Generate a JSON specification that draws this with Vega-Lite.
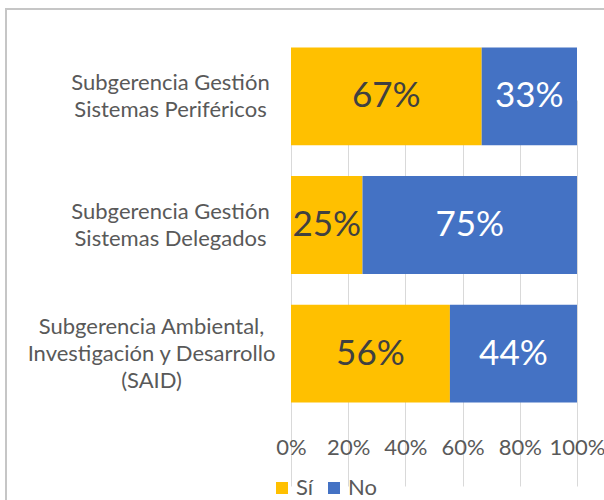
{
  "$schema": "https://vega.github.io/schema/vega-lite/v6.json",
  "autosize": {"type": "none"},
  "padding": {"left": 6, "top": 9, "right": 0, "bottom": 0},
  "width": 600,
  "height": 500,
  "background": "white",
  "config": {
    "view": {"stroke": "#C6C6C6", "strokeWidth": 2},
    "font": "Lato"
  },
  "data": {
    "values": [
      {"cat": "Subgerencia Gestión Sistemas Periféricos", "resp": "Sí", "ord": 1, "v": 0.6667},
      {"cat": "Subgerencia Gestión Sistemas Periféricos", "resp": "No", "ord": 2, "v": 0.3333},
      {"cat": "Subgerencia Gestión Sistemas Delegados", "resp": "Sí", "ord": 1, "v": 0.25},
      {"cat": "Subgerencia Gestión Sistemas Delegados", "resp": "No", "ord": 2, "v": 0.75},
      {"cat": "Subgerencia Ambiental, Investigación y Desarrollo (SAID)", "resp": "Sí", "ord": 1, "v": 0.5556},
      {"cat": "Subgerencia Ambiental, Investigación y Desarrollo (SAID)", "resp": "No", "ord": 2, "v": 0.4444}
    ]
  },
  "encoding": {
    "y": {
      "field": "cat",
      "type": "nominal",
      "sort": null,
      "title": null,
      "scale": {"range": [23, 409], "paddingInner": 0.24, "paddingOuter": 0.12},
      "axis": {
        "offset": -285,
        "domain": false,
        "ticks": false,
        "tickSize": 0,
        "grid": false,
        "labelAlign": "center",
        "labelBaseline": "middle",
        "labelPadding": {"condition": {"test": "indexof(datum.value, 'SAID') >= 0", "value": 140}, "value": 121},
        "labelOffset": {"condition": {"test": "indexof(datum.value, 'SAID') >= 0", "value": -27}, "value": -13.5},
        "labelLimit": 400,
        "labelFontSize": 22,
        "labelLineHeight": 27,
        "labelColor": "#595959",
        "labelFont": "Lato",
        "labelExpr": "datum.label == 'Subgerencia Gestión Sistemas Periféricos' ? ['Subgerencia Gestión', 'Sistemas Periféricos'] : datum.label == 'Subgerencia Gestión Sistemas Delegados' ? ['Subgerencia Gestión', 'Sistemas Delegados'] : ['Subgerencia Ambiental,', 'Investigación y Desarrollo', '(SAID)']"
      }
    }
  },
  "layer": [
    {
      "mark": {"type": "bar"},
      "encoding": {
        "x": {
          "field": "v",
          "type": "quantitative",
          "stack": "zero",
          "title": null,
          "scale": {"domain": [0, 1], "range": [285, 571]},
          "axis": {
            "values": [0, 0.2, 0.4, 0.6, 0.8, 1],
            "format": ".0%",
            "offset": -100,
            "domain": false,
            "ticks": false,
            "tickSize": 0,
            "grid": true,
            "gridColor": "#D9D9D9",
            "gridWidth": 1,
            "labelPadding": 28,
            "labelFontSize": 22,
            "labelColor": "#595959",
            "labelFont": "Lato",
            "labelFlush": false
          }
        },
        "order": {"field": "ord", "type": "quantitative"},
        "color": {
          "field": "resp",
          "type": "nominal",
          "scale": {"domain": ["Sí", "No"], "range": ["#FFC000", "#4472C4"]},
          "legend": {
            "title": null,
            "orient": "none",
            "legendX": 265,
            "legendY": 468,
            "direction": "horizontal",
            "symbolType": "square",
            "symbolSize": 144,
            "symbolStrokeWidth": 0,
            "labelFontSize": 22,
            "labelColor": "#595959",
            "labelFont": "Lato",
            "labelOffset": 3,
            "columnPadding": 9,
            "padding": 0
          }
        }
      }
    },
    {
      "mark": {"type": "text", "fontSize": 35, "baseline": "middle", "align": "center", "font": "Lato"},
      "encoding": {
        "x": {"field": "v", "type": "quantitative", "stack": "zero", "bandPosition": 0.5},
        "order": {"field": "ord", "type": "quantitative"},
        "text": {"field": "v", "type": "quantitative", "format": ".0%"},
        "color": {
          "condition": {"test": "datum.resp == 'No'", "value": "#FFFFFF"},
          "value": "#404040"
        }
      }
    }
  ]
}
